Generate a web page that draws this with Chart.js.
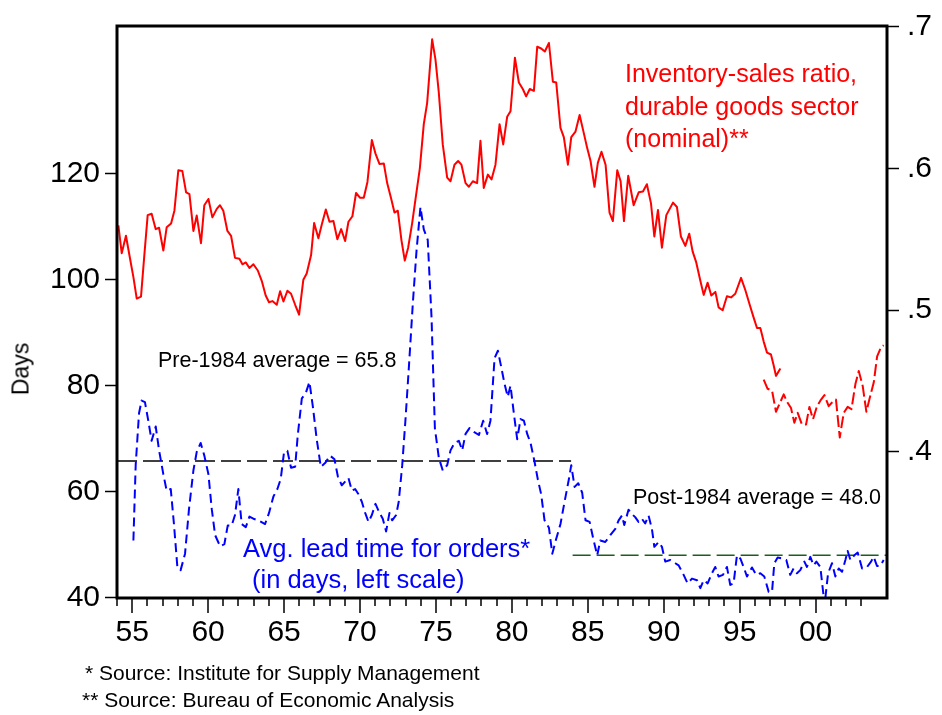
<!DOCTYPE html>
<html>
<head>
<meta charset="utf-8">
<script src="https://cdn.jsdelivr.net/npm/chart.js@4"></script>
<style>
  html, body { margin: 0; padding: 0; background: #fff; }
  #wrap { position: relative; width: 942px; height: 715px; font-family: 'Liberation Sans', Arial, sans-serif; }
  #wrap canvas { position: absolute; left: 0; top: 0; }
  .note { position: absolute; white-space: nowrap; line-height: 1; }
</style>
</head>
<body>
<div id="wrap">
  <canvas id="leadChart" width="942" height="715"></canvas>
  <div class="note" style="left:625px; top:57px; font-size:25px; line-height:32.5px; color:#ff0000;">Inventory-sales ratio,<br>durable goods sector<br>(nominal)**</div>
  <div class="note" style="left:158px; top:349.5px; font-size:21.5px; color:#000;">Pre-1984 average = 65.8</div>
  <div class="note" style="left:633px; top:487px; font-size:21.5px; color:#000;">Post-1984 average = 48.0</div>
  <div class="note" style="left:243px; top:535.5px; font-size:25.5px; color:#0000ff;">Avg. lead time for orders*</div>
  <div class="note" style="left:252px; top:566.5px; font-size:25.5px; color:#0000ff;">(in days, left scale)</div>
  <div class="note" style="left:85px; top:662px; font-size:21px; color:#000;">* Source: Institute for Supply Management</div>
  <div class="note" style="left:82px; top:689px; font-size:21px; color:#000;">** Source: Bureau of Economic Analysis</div>
  <div class="note" style="left:21px; top:369px; font-size:23px; color:#000; transform: translate(-50%, -50%) rotate(-90deg);">Days</div>
</div>
<script>
// inventory-sales ratio, durable goods (right scale), old basis
const inventoryYears = [
  1954.09, 1954.31, 1954.59, 1954.86, 1955.08, 1955.30, 1955.58, 1955.80, 1956.02, 1956.28,
  1956.55, 1956.77, 1957.05, 1957.27, 1957.56, 1957.78, 1958.04, 1958.30, 1958.55, 1958.77,
  1959.03, 1959.25, 1959.53, 1959.75, 1960.02, 1960.28, 1960.57, 1960.78, 1961.00, 1961.27,
  1961.51, 1961.77, 1962.06, 1962.26, 1962.48, 1962.72, 1962.98, 1963.27, 1963.53, 1963.79,
  1964.01, 1964.23, 1964.52, 1964.74, 1964.96, 1965.22, 1965.46, 1965.73, 1965.99, 1966.27,
  1966.49, 1966.78, 1966.98, 1967.26, 1967.48, 1967.75, 1967.99, 1968.25, 1968.51, 1968.76,
  1969.02, 1969.24, 1969.50, 1969.74, 1970.01, 1970.25, 1970.49, 1970.78,
  1971.02, 1971.28, 1971.57, 1971.79, 1972.05, 1972.27, 1972.49, 1972.73, 1972.95, 1973.17,
  1973.43, 1973.65, 1973.94, 1974.20, 1974.42, 1974.75, 1974.97, 1975.19, 1975.45, 1975.74,
  1975.96, 1976.22, 1976.46, 1976.68, 1976.95, 1977.17, 1977.43, 1977.71, 1977.93, 1978.15,
  1978.42, 1978.66, 1978.92, 1979.19, 1979.43, 1979.69, 1979.91, 1980.20, 1980.46, 1980.72,
  1980.94, 1981.18, 1981.45, 1981.67, 1981.93, 1982.17, 1982.44, 1982.70, 1982.92, 1983.20,
  1983.42, 1983.69, 1983.91, 1984.19, 1984.46, 1984.74, 1984.96, 1985.18, 1985.44, 1985.66,
  1985.90, 1986.17, 1986.43, 1986.65, 1986.94, 1987.16, 1987.38, 1987.66,
  1988.02, 1988.35, 1988.63, 1988.89, 1989.16, 1989.38, 1989.62, 1989.88, 1990.17, 1990.39,
  1990.61, 1990.87, 1991.13, 1991.42, 1991.68, 1991.90, 1992.14, 1992.41, 1992.63, 1992.89,
  1993.13, 1993.40, 1993.61, 1993.88, 1994.16, 1994.43, 1994.71, 1995.09, 1995.37, 1995.66,
  1995.92, 1996.14, 1996.36, 1996.58, 1996.80, 1997.06, 1997.24, 1997.39, 1997.68
];
const inventoryRatio = [
  0.5597, 0.5401, 0.5524, 0.5362, 0.5232, 0.5081, 0.5094, 0.5388, 0.5670, 0.5680,
  0.5571, 0.5581, 0.5420, 0.5584, 0.5610, 0.5701, 0.5987, 0.5982, 0.5831, 0.5818,
  0.5558, 0.5667, 0.5472, 0.5740, 0.5784, 0.5654, 0.5714, 0.5740, 0.5701, 0.5558,
  0.5524, 0.5368, 0.5362, 0.5323, 0.5336, 0.5297, 0.5323, 0.5279, 0.5206, 0.5102,
  0.5055, 0.5063, 0.5037, 0.5133, 0.5060, 0.5136, 0.5115, 0.5037, 0.4967, 0.5214,
  0.5258, 0.5388, 0.5615, 0.5506, 0.5602, 0.5709, 0.5623, 0.5628, 0.5500, 0.5571,
  0.5487, 0.5623, 0.5662, 0.5826, 0.5792, 0.5792, 0.5904, 0.6200,
  0.6104, 0.6031, 0.6034, 0.5896, 0.5787, 0.5688, 0.5701, 0.5492, 0.5349, 0.5440,
  0.5610, 0.5779, 0.6000, 0.6312, 0.6461, 0.6911, 0.6768, 0.6534, 0.6169, 0.5935,
  0.5909, 0.6026, 0.6052, 0.6026, 0.5896, 0.5870, 0.5909, 0.5896, 0.6195, 0.5862,
  0.5956, 0.5922, 0.6026, 0.6312, 0.6169, 0.6364, 0.6403, 0.6781, 0.6606, 0.6560,
  0.6508, 0.6560, 0.6547, 0.6859, 0.6846, 0.6825, 0.6885, 0.6612, 0.6606, 0.6286,
  0.6221, 0.6026, 0.6221, 0.6260, 0.6377, 0.6247, 0.6143, 0.6052, 0.5870, 0.6039,
  0.6117, 0.6026, 0.5688, 0.5628, 0.5987, 0.5909, 0.5628, 0.5948,
  0.5740, 0.5831, 0.5836, 0.5888, 0.5753, 0.5519, 0.5706, 0.5440, 0.5670, 0.5714,
  0.5758, 0.5727, 0.5519, 0.5453, 0.5539, 0.5414, 0.5336, 0.5206, 0.5107, 0.5193,
  0.5102, 0.5128, 0.5019, 0.4998, 0.5097, 0.5089, 0.5115, 0.5227, 0.5141, 0.5037,
  0.4946, 0.4873, 0.4873, 0.4777, 0.4699, 0.4686, 0.4608, 0.4535, 0.4587
];

// same ratio, new basis (dashed)
const inventoryNewYears = [
  1996.58, 1996.84, 1997.13, 1997.39, 1997.61, 1997.90, 1998.12, 1998.38, 1998.60, 1998.82,
  1999.10, 1999.37, 1999.59, 1999.83, 2000.09, 2000.31, 2000.58, 2000.86, 2001.08, 2001.34,
  2001.59, 2001.85, 2002.11, 2002.36, 2002.62, 2002.84, 2003.10, 2003.34, 2003.61, 2003.83,
  2004.05, 2004.31, 2004.48
];
const inventoryNewRatio = [
  0.4509, 0.4444, 0.4431, 0.4282, 0.4334, 0.4405, 0.4352, 0.4308, 0.4204, 0.4274,
  0.4191, 0.4191, 0.4316, 0.4230, 0.4321, 0.4360, 0.4399, 0.4321, 0.4347, 0.4368,
  0.4100, 0.4274, 0.4316, 0.4300, 0.4477, 0.4569, 0.4464, 0.4282, 0.4399, 0.4490,
  0.4673, 0.4738, 0.4751
];

// average lead time for orders, days (left scale)
const leadYears = [
  1955.08, 1955.23, 1955.45, 1955.62, 1955.84, 1956.06, 1956.28, 1956.55, 1956.77, 1957.05,
  1957.27, 1957.54, 1957.75, 1957.98, 1958.19, 1958.48, 1958.74, 1959.03, 1959.25, 1959.51,
  1959.75, 1960.02, 1960.24, 1960.46, 1960.79, 1961.07, 1961.29, 1961.55, 1961.77, 1961.99,
  1962.21, 1962.48, 1962.72, 1962.98, 1963.31, 1963.75, 1964.01, 1964.30, 1964.56, 1964.78,
  1965.00, 1965.22, 1965.46, 1965.73, 1965.90, 1966.17, 1966.43, 1966.67, 1966.89, 1967.15,
  1967.42, 1967.70, 1968.03, 1968.32, 1968.54, 1968.80, 1969.02, 1969.24, 1969.46, 1969.68,
  1969.90, 1970.12, 1970.34, 1970.56, 1970.78,
  1971.02, 1971.28, 1971.50, 1971.72, 1971.94, 1972.12, 1972.38, 1972.55, 1972.78, 1972.99,
  1973.21, 1973.48, 1973.72, 1973.98, 1974.20, 1974.46, 1974.71, 1974.93, 1975.19, 1975.45,
  1975.74, 1975.96, 1976.22, 1976.51, 1976.73, 1976.95, 1977.21, 1977.50, 1977.83, 1978.11,
  1978.37, 1978.59, 1978.86, 1979.08, 1979.30, 1979.52, 1979.73, 1979.91, 1980.13, 1980.35,
  1980.57, 1980.79, 1981.01, 1981.23, 1981.49, 1981.71, 1981.93, 1982.15, 1982.44, 1982.66,
  1982.92, 1983.20, 1983.47, 1983.75, 1983.91, 1984.13, 1984.37, 1984.63, 1984.85, 1985.12,
  1985.36, 1985.62,
  1985.82, 1986.15, 1986.48, 1986.81, 1987.03, 1987.25, 1987.40, 1987.68, 1987.90, 1988.12,
  1988.34, 1988.56, 1988.78, 1989.00, 1989.22, 1989.38, 1989.66, 1989.88, 1990.10, 1990.43,
  1990.76, 1990.98, 1991.31, 1991.57, 1991.86, 1992.19, 1992.41, 1992.63, 1992.89, 1993.17,
  1993.39, 1993.61, 1993.90, 1994.16, 1994.38, 1994.60, 1994.82, 1995.04, 1995.26, 1995.48,
  1995.81, 1996.09, 1996.36, 1996.62, 1996.91, 1997.13, 1997.28, 1997.50, 1997.79, 1998.07,
  1998.33, 1998.55, 1998.77, 1998.99, 1999.26, 1999.43, 1999.65, 1999.87, 2000.05, 2000.31,
  2000.53, 2000.64, 2000.82, 2001.08, 2001.30, 2001.52, 2001.74, 2001.96, 2002.11, 2002.29,
  2002.55, 2002.77, 2003.06, 2003.39, 2003.65, 2003.82, 2004.04, 2004.26, 2004.48
];
const leadDays = [
  50.8, 65.0, 74.8, 77.2, 76.9, 73.4, 69.6, 72.3, 67.8, 63.3,
  60.2, 60.5, 53.9, 45.6, 45.2, 48.3, 56.7, 64.0, 67.5, 69.2,
  66.8, 63.3, 56.7, 51.8, 49.7, 50.1, 53.6, 53.6, 55.6, 60.5,
  53.9, 53.3, 55.3, 54.9, 54.6, 53.9, 56.0, 59.1, 60.5, 62.4,
  67.5, 67.7, 64.5, 64.7, 70.6, 77.6, 78.6, 80.7, 76.2, 69.9,
  64.7, 65.4, 66.8, 66.1, 62.9, 61.2, 61.9, 62.6, 60.2, 60.5,
  59.5, 58.1, 56.0, 54.3, 55.6,
  57.7, 56.0, 54.9, 52.5, 56.0, 54.6, 55.6, 58.1, 65.0, 73.4,
  83.1, 95.6, 105.4, 113.7, 109.5, 107.5, 92.9, 72.0, 66.4, 64.0,
  65.0, 67.8, 69.2, 69.6, 67.8, 70.9, 72.0, 71.3, 70.7, 73.4,
  70.9, 73.4, 85.2, 86.6, 83.5, 80.3, 77.9, 80.0, 74.8, 69.9,
  73.7, 73.4, 70.9, 69.2, 65.7, 62.3, 59.5, 54.6, 53.2, 48.3,
  51.1, 53.9, 58.1, 62.3, 65.0, 60.9, 61.6, 59.8, 54.6, 54.3,
  51.1, 48.0,
  50.8, 50.5, 51.8, 53.0, 54.6, 55.5, 53.7, 56.6, 55.8, 55.2,
  54.3, 54.9, 54.0, 55.5, 53.0, 49.6, 50.5, 49.6, 46.8, 47.1,
  46.5, 46.1, 44.3, 42.7, 43.6, 43.3, 41.8, 43.3, 42.7, 44.6,
  45.8, 44.0, 44.3, 45.8, 42.4, 42.7, 48.0, 47.4, 45.8, 44.0,
  45.7, 44.3, 44.6, 44.0, 41.1, 41.1, 46.5, 47.6, 47.4, 47.1,
  44.3, 45.5, 44.6, 45.2, 46.8, 45.8, 47.7, 46.1, 46.8, 45.8,
  40.2, 39.9, 44.6, 46.5, 44.0, 45.5, 44.9, 47.1, 48.8, 47.1,
  48.0, 48.5, 45.5, 45.8, 46.8, 47.7, 46.0, 46.0, 47.1
];

// period averages of lead time
const preAvgYears = [1954, 1983.9];
const preAvgDays = 65.8;
const postAvgYears = [1984, 2004.7];
const postAvgDays = 48.0;

const toPoints = (xs, ys) => xs.map((x, i) => ({ x: x, y: Array.isArray(ys) ? ys[i] : ys }));

const frame = {
  id: 'frame',
  afterDraw(chart) {
    const { ctx, chartArea: a } = chart;
    const xs = chart.scales.x;
    ctx.save();
    ctx.strokeStyle = '#000';
    ctx.lineWidth = 1.5;
    ctx.beginPath();
    xs.ticks.forEach(t => {
      if (!Number.isInteger(t.value)) return;
      const px = Math.round(xs.getPixelForValue(t.value));
      ctx.moveTo(px, a.bottom);
      ctx.lineTo(px, a.bottom + (t.value % 5 === 0 ? 15 : 8));
    });
    ctx.stroke();
    ctx.lineWidth = 3;
    ctx.strokeRect(a.left, a.top, a.right - a.left, a.bottom - a.top);
    ctx.restore();
  }
};

Chart.defaults.font.family = "'Liberation Sans', Arial, sans-serif";
Chart.defaults.color = '#000';

new Chart(document.getElementById('leadChart'), {
  type: 'line',
  data: {
    datasets: [
      {
        data: toPoints(leadYears, leadDays),
        yAxisID: 'yL',
        borderColor: '#0000ff',
        borderWidth: 2,
        borderDash: [9, 5],
        pointRadius: 0,
        borderJoinStyle: 'round'
      },
      {
        data: toPoints(inventoryYears, inventoryRatio),
        yAxisID: 'yR',
        borderColor: '#ff0000',
        borderWidth: 2,
        pointRadius: 0,
        borderJoinStyle: 'round'
      },
      {
        data: toPoints(inventoryNewYears, inventoryNewRatio),
        yAxisID: 'yR',
        borderColor: '#ff0000',
        borderWidth: 2,
        borderDash: [12, 4],
        pointRadius: 0,
        borderJoinStyle: 'round'
      },
      {
        data: toPoints(preAvgYears, preAvgDays),
        yAxisID: 'yL',
        borderColor: '#000',
        borderWidth: 1.5,
        borderDash: [20, 6],
        pointRadius: 0
      },
      {
        data: toPoints(postAvgYears, postAvgDays),
        yAxisID: 'yL',
        borderColor: '#1b5e20',
        borderWidth: 1.5,
        borderDash: [18, 6],
        pointRadius: 0
      }
    ]
  },
  options: {
    responsive: false,
    animation: false,
    devicePixelRatio: 1,
    layout: { padding: { top: 23, left: 0, right: 0, bottom: 0 } },
    plugins: { legend: { display: false }, tooltip: { enabled: false } },
    scales: {
      x: {
        type: 'linear',
        min: 1954,
        max: 2004.7,
        afterFit: s => { s.height = 117; },
        border: { display: false },
        grid: { display: false, drawTicks: false },
        ticks: {
          stepSize: 1,
          autoSkip: false,
          maxRotation: 0,
          padding: 17,
          font: { size: 30 },
          callback: v => (Number.isInteger(v) && v % 5 === 0) ? String(v % 100).padStart(2, '0') : ''
        }
      },
      yL: {
        type: 'linear',
        position: 'left',
        min: 39.94,
        max: 147.87,
        afterFit: s => { s.width = 117; },
        border: { display: false },
        grid: {
          drawOnChartArea: false,
          tickLength: 12,
          tickWidth: 1.5,
          tickColor: c => (c.tick && c.tick.value > 120) ? 'rgba(0,0,0,0)' : '#000'
        },
        ticks: {
          stepSize: 20,
          includeBounds: false,
          padding: 5,
          font: { size: 30 },
          callback: v => v <= 120 ? String(v) : ''
        }
      },
      yR: {
        type: 'linear',
        position: 'right',
        min: 0.2967,
        max: 0.7005,
        afterFit: s => { s.width = 55; },
        border: { display: false },
        grid: {
          drawOnChartArea: false,
          tickLength: 12,
          tickWidth: 1.5,
          tickColor: c => (c.tick && c.tick.value < 0.35) ? 'rgba(0,0,0,0)' : '#000'
        },
        ticks: {
          stepSize: 0.1,
          includeBounds: false,
          padding: 8,
          font: { size: 30 },
          callback: v => v >= 0.35 ? v.toFixed(1).slice(1) : ''
        }
      }
    }
  },
  plugins: [frame]
});
</script>
</body>
</html>
